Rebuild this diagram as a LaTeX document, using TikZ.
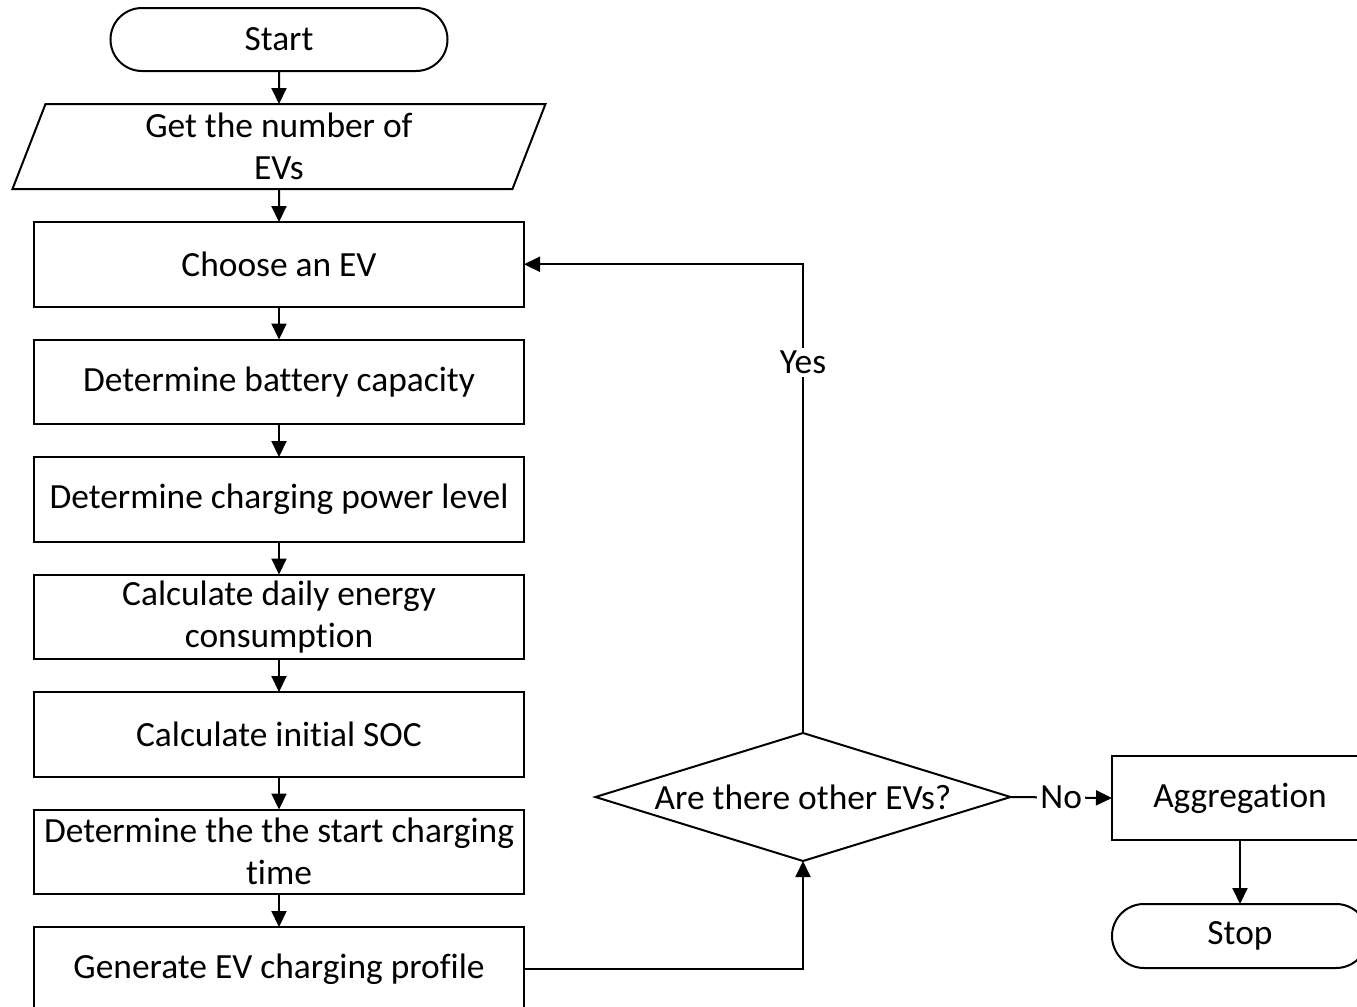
\documentclass[tikz,border=0pt]{standalone}
\usepackage{fontspec}
\setmainfont{Carlito}[Ligatures=NoCommon]
\usetikzlibrary{shapes, positioning, arrows.meta, calc}

\begin{document}
\begin{tikzpicture}[x=0.5pt, y=-0.5pt,
    every node/.style={draw, line width=1pt, outer sep=0pt, align=center,
        font=\fontsize{17.7pt}{21pt}\selectfont},
    box/.style={minimum width=245pt, minimum height=42.25pt, inner sep=1pt},
    term/.style={rounded corners=15.75pt, minimum height=31.5pt},
    io/.style={trapezium, trapezium left angle=65, trapezium right angle=115,
        trapezium stretches body, minimum width=266.5pt, minimum height=42.5pt, inner sep=1pt},
    decision/.style={diamond, aspect=3.24, minimum width=207.5pt, minimum height=64pt, inner sep=0pt},
    lbl/.style={draw=none, fill=white, inner sep=1.5pt},
    node distance=16.5pt,
    >={Triangle[length=8pt, width=7.5pt]}, line width=1pt]

\useasboundingbox (0,0) rectangle (1357,1007);

% Linke Spalte
\node[term, minimum width=168.5pt] (start) at (279,39.5) {Start};
\node[io] (num) [below=of start] {Get the number of\\EVs};
\node[box] (choose) [below=of num] {Choose an EV};
\node[box] (cap) [below=of choose] {Determine battery capacity};
\node[box] (pow) [below=of cap] {Determine charging power level};
\node[box] (daily) [below=of pow] {Calculate daily energy\\consumption};
\node[box] (soc) [below=of daily] {Calculate initial SOC};
\node[box] (tstart) [below=of soc] {Determine the the start charging\\time};
\node[box] (gen) [below=of tstart] {Generate EV charging profile};

% Rechte Seite
\node[decision] (dec) at (803,797) {Are there other EVs?};
\node[box, minimum width=128pt, minimum height=42pt] (agg) at (1240,798) {Aggregation};
\node[term, minimum width=128pt, minimum height=32pt, rounded corners=16pt] (stop) at (1240,936) {Stop};

% Pfeile
\draw[->] (start) -- (num);
\draw[->] (num) -- (choose);
\draw[->] (choose) -- (cap);
\draw[->] (cap) -- (pow);
\draw[->] (pow) -- (daily);
\draw[->] (daily) -- (soc);
\draw[->] (soc) -- (tstart);
\draw[->] (tstart) -- (gen);
\draw[->] (gen.east) -| (dec.south);
\draw[->] (dec.north) |- node[lbl, pos=0.395] {Yes} (choose.east);
\draw[->] (dec.east) -- node[lbl] {No} (agg.west);
\draw[->] (agg) -- (stop);

\end{tikzpicture}
\end{document}
